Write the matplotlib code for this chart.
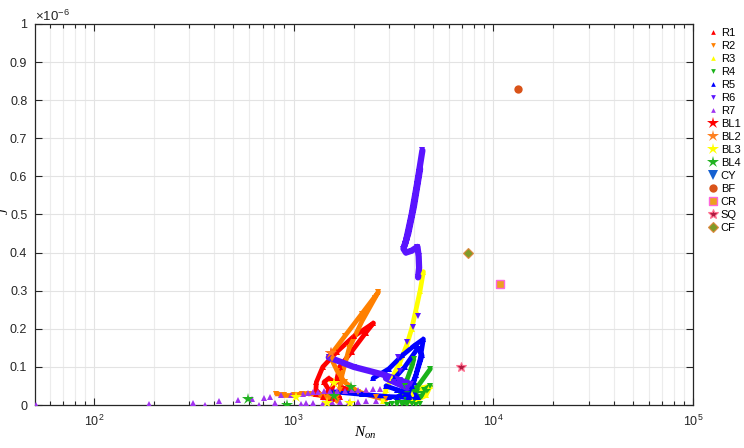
import numpy as np
import matplotlib
matplotlib.use("Agg")
import matplotlib.pyplot as plt
from matplotlib.ticker import FixedLocator, FixedFormatter, LogLocator, NullFormatter

plt.rcParams['font.family'] = ['Liberation Sans', 'DejaVu Sans']
plt.rcParams['mathtext.fontset'] = 'custom'
plt.rcParams['mathtext.rm'] = 'Liberation Sans'
plt.rcParams['mathtext.it'] = 'Liberation Serif:italic'

nan = np.nan
# ---- data: N_on and J (in units of 1e-6); NaN separates path pieces ----
R1_N = [1290, 1300, 1400, 1650, 2000, 2512, 2300, 1950, 1700, 1650, 1750, 1950, nan,
        1500, 1420, 1500, 1600, 1550, 1480, nan, 1320, 1400, 1550, 1700]
R1_J = [0.03, 0.06, 0.10, 0.14, 0.18, 0.215, 0.19, 0.14, 0.10, 0.07, 0.045, 0.04, nan,
        0.04, 0.06, 0.07, 0.06, 0.04, 0.035, nan, 0.035, 0.02, 0.015, 0.02]
R2_N = [1500, 1800, 2200, 2661, 2550, 2200, 1900, 1750, 1700, 1650, nan,
        1550, 1650, 1800, 2100, 2600, 2900, nan, 820, 900, 1000, 1100, 1200, 1350, 1500]
R2_J = [0.125, 0.18, 0.24, 0.297, 0.28, 0.22, 0.15, 0.08, 0.04, 0.01, nan,
        0.12, 0.09, 0.06, 0.035, 0.02, 0.015, nan, 0.03, 0.025, 0.025, 0.03, 0.03, 0.025, 0.02]
R3_N = [4467, 4300, 4100, 3900, 3700, 3400, 3100, 2900, 2800, nan,
        3900, 4400, 4840, 4600, 4200, 3900]
R3_J = [0.35, 0.30, 0.25, 0.20, 0.16, 0.11, 0.07, 0.04, 0.01, nan,
        0.03, 0.045, 0.05, 0.025, 0.015, 0.01]
R4_N = [3300, 3600, 3900, 4000, nan, 3600, 4200, 4840, nan, 3700, 4500, 4840, 4300, 3500]
R4_J = [0.01, 0.05, 0.10, 0.12, nan, 0.02, 0.05, 0.095, nan, 0.03, 0.04, 0.05, 0.02, 0.005]
R4_pts_N = [2950, 3100, 3300, 3500, 3700, 3900, 4100, 4300]
R4_pts_J = [0.0, 0.002, 0.0, 0.003, 0.0, 0.002, 0.0, 0.003]
R5_N = [1550, 2200, 3000, 3800, 4200, nan,
        2500, 3000, 3500, 4000, 4467, 4300, 4100, 3900, 3700, nan,
        3200, 3600, 4200, 4400, 4000, 3600, 3300, nan, 2900, 3300, 3800, 4100]
R5_J = [0.035, 0.028, 0.022, 0.02, 0.02, nan,
        0.07, 0.095, 0.13, 0.155, 0.173, 0.12, 0.08, 0.05, 0.03, nan,
        0.07, 0.10, 0.15, 0.13, 0.06, 0.03, 0.02, nan, 0.05, 0.04, 0.03, 0.025]
R6_N = [4415, 4150, 3900, 3650, 3550, 3650, 3900, 4170, 4230, 4250, 4200, nan,
        4300, 4000, 3750, 3600, nan,
        1500, 2000, 2800, 3400, 3850, 3700, 3200, 2900]
R6_J = [0.668, 0.58, 0.50, 0.43, 0.41, 0.40, 0.405, 0.415, 0.39, 0.36, 0.335, nan,
        0.62, 0.52, 0.45, 0.42, nan,
        0.125, 0.10, 0.08, 0.065, 0.055, 0.045, 0.06, 0.07]
R6_pts_N = [4217, 3981, 3715, 3350, 3400]
R6_pts_J = [0.234, 0.205, 0.165, 0.126, 0.089]
R7_N = [51, 188, 313, 359, 422, 525, 617, 668, 708, 759, 804, 861, 966, 1084, 1109, 1180,
        1250, 1330, 1420, 1520, 1650, 1800, 1950, 2100, 2300, 2500, 2700,
        1150, 1250, 1400, 1550, 1700, 1900, 2100, 2300, 2600]
R7_J = [0.0, 0.002, 0.004, 0.0, 0.01, 0.013, 0.016, 0.0, 0.019, 0.022, 0.005, 0.025, 0.027,
        0.003, 0.03, 0.032, 0.034, 0.035, 0.036, 0.037, 0.038, 0.038, 0.039, 0.04, 0.04, 0.041, 0.042,
        0.004, 0.005, 0.006, 0.007, 0.008, 0.008, 0.009, 0.01, 0.01]
BL1_N = [1531]
BL1_J = [0.137]
BL2_N = [1531]
BL2_J = [0.137]
BL3_N = [1585, 1023, 1462, 1905]
BL3_J = [0.058, 0.021, 0.005, 0.005]
BL4_N = [589, 930, 1928, 1585]
BL4_J = [0.016, 0.0, 0.047, 0.024]
CY_N = [4000]
CY_J = [0.02]
BF_N = [13335]
BF_J = [0.83]
CR_N = [10840]
CR_J = [0.318]
SQ_N = [6920]
SQ_J = [0.10]
CF_N = [7500]
CF_J = [0.40]

yticks = [0, 0.1, 0.2, 0.3, 0.4, 0.5, 0.6, 0.7, 0.8, 0.9, 1.0]
ytick_labels = ['0', '0.1', '0.2', '0.3', '0.4', '0.5', '0.6', '0.7', '0.8', '0.9', '1']

fig = plt.figure(figsize=(7.44, 4.48), dpi=100)
ax = fig.add_axes([35/744, 43/448, 658/744, 381/448])

def path(N, J, color, marker, lw=3.4, ms=3.8, label=None):
    ax.plot(N, J, color=color, lw=lw, solid_capstyle='round', zorder=2)
    ax.plot(N, J, ls='none', marker=marker, color=color, ms=ms, mew=0, zorder=3)
    ax.plot([], [], ls='none', marker=marker, color=color, ms=3.4, mew=0, label=label)

path(R1_N, R1_J, '#ff0000', '^', label='R1')
path(R2_N, R2_J, '#ff8000', 'v', label='R2')
path(R3_N, R3_J, '#ffff00', '^', label='R3')
path(R4_N, R4_J, '#19b219', 'v', label='R4')
ax.plot(R4_pts_N, R4_pts_J, ls='none', marker='v', color='#19b219', ms=4.5, mew=0, zorder=3)
path(R5_N, R5_J, '#0000ff', '^', label='R5')
path(R6_N, R6_J, '#5a14ff', 'v', lw=4.5, label='R6')
ax.plot(R6_pts_N, R6_pts_J, ls='none', marker='v', color='#5a14ff', ms=4.5, mew=0, zorder=3)
ax.plot(R7_N, R7_J, ls='none', marker='^', color='#a033f0', ms=4.5, mew=0, zorder=3)
ax.plot([], [], ls='none', marker='^', color='#a033f0', ms=3.4, mew=0, label='R7')

ax.plot(BL1_N, BL1_J, ls='none', marker='*', color='#ff0000', ms=9, mew=0, zorder=4, label='BL1')
ax.plot(BL2_N, BL2_J, ls='none', marker='*', color='#ff8020', ms=9, mew=0, zorder=5, label='BL2')
ax.plot(BL3_N, BL3_J, ls='none', marker='*', color='#ffff00', ms=9, mew=0, zorder=5, label='BL3')
ax.plot(BL4_N, BL4_J, ls='none', marker='*', color='#22b222', ms=9, mew=0, zorder=5, label='BL4')
ax.plot(CY_N, CY_J, ls='none', marker='v', color='#1560d0', ms=7, mew=0, zorder=1, label='CY')
ax.plot(BF_N, BF_J, ls='none', marker='o', color='#d95319', ms=6, mew=0, zorder=5, label='BF')
ax.plot(CR_N, CR_J, ls='none', marker='s', mfc='#eda020', mec='#ff66dd', ms=5.5, mew=1, zorder=5, label='CR')
ax.plot(SQ_N, SQ_J, ls='none', marker='*', mfc='#b01a40', mec='#ff7090', ms=7.5, mew=0.8, zorder=5, label='SQ')
ax.plot(CF_N, CF_J, ls='none', marker='D', mfc='#7e9a28', mec='#e08a40', ms=5.5, mew=0.8, zorder=5, label='CF')

ax.set_xscale('log')
ax.set_xlim(50.7, 1e5)
ax.set_ylim(0, 1.0)
ax.yaxis.set_major_locator(FixedLocator(yticks))
ax.yaxis.set_major_formatter(FixedFormatter(ytick_labels))
ax.xaxis.set_major_locator(LogLocator(base=10, numticks=10))
ax.xaxis.set_minor_locator(LogLocator(base=10, subs=np.arange(2, 10), numticks=20))
ax.xaxis.set_minor_formatter(NullFormatter())

ax.grid(True, which='major', color='#e3e3e3', lw=0.8)
ax.grid(True, which='minor', axis='x', color='#ececec', lw=0.8)
ax.set_axisbelow(True)

for s in ax.spines.values():
    s.set_color('#262626')
    s.set_linewidth(0.9)
ax.tick_params(which='both', direction='in', top=True, right=True, colors='#262626',
               labelsize=9, width=0.8)
ax.tick_params(which='major', length=5)
ax.tick_params(which='minor', length=3)
ax.tick_params(axis='x', pad=6)
ax.tick_params(axis='y', pad=5.5)

fig.text(365/744, 1 - 433/448, r'$N_{on}$', fontsize=11, ha='center', va='center')
fig.text(4.5/744, 1 - 211/448, r'$J$', fontsize=9, ha='center', va='center', rotation=90)
ax.text(0.0, 1.0, r'$\times\mathregular{10^{-6}}$', transform=ax.transAxes,
        fontsize=9.5, ha='left', va='bottom', color='#262626')

leg = fig.legend(loc='upper left', bbox_to_anchor=(0.942, 0.955), frameon=False,
                 fontsize=8, handlelength=0.8, handletextpad=0.3, labelspacing=0.27,
                 borderpad=0.2, markerscale=1.0)

fig.savefig('out.png', dpi=100)
